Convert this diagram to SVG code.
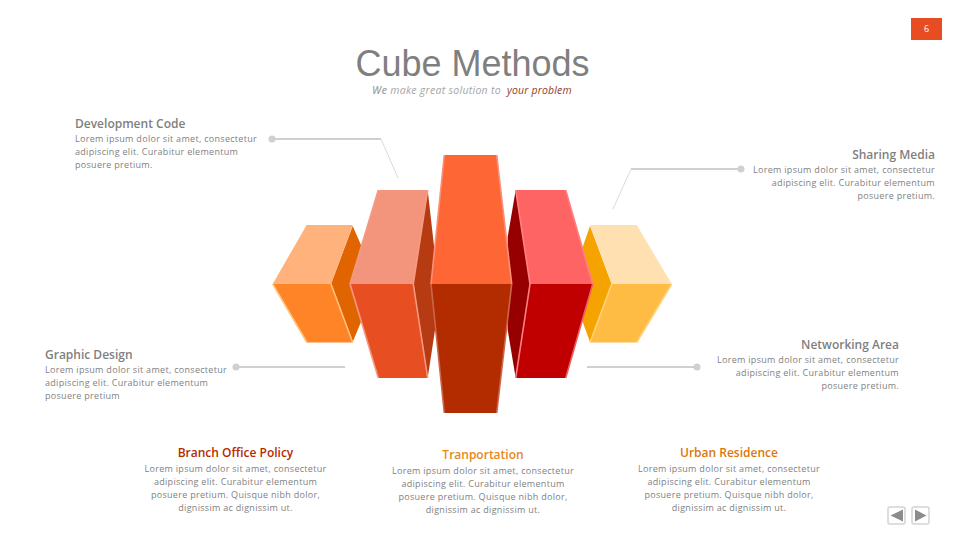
<svg xmlns="http://www.w3.org/2000/svg" width="960" height="540" viewBox="0 0 960 540">
<style>
.b{font-family:"Open Sans","Liberation Sans",sans-serif;font-size:9px;fill:#7f7f7f;letter-spacing:.3px}
.h{font-family:"Open Sans","Liberation Sans",sans-serif;font-size:12px;font-weight:600}
.g{fill:#7f7f7f}
.m{text-anchor:middle}.e{text-anchor:end}
.l{fill:none;stroke:#d0d0d0;stroke-width:2}
.t{fill:none;stroke:#d0d0d0;stroke-width:.8}
.d{fill:#d0d0d0}
.hl{fill:none;stroke-width:1.600}
</style>
<rect width="960" height="540" fill="#fff"/>
<g id="page"><rect x="911" y="18" width="31" height="22" fill="#e84c22"/><text x="926.500" y="32" text-anchor="middle" font-family="Open Sans,sans-serif" font-size="9" fill="#fff">6</text></g>
<g id="title"><text x="472.500" y="75.500" text-anchor="middle" font-family="Liberation Sans,sans-serif" font-size="36" fill="#7f7f7f">Cube Methods</text>
<text x="372" y="93.500" font-family="Open Sans,sans-serif" font-size="10.500" font-style="italic" fill="#a6a6a6" letter-spacing=".28"><tspan font-weight="600">We</tspan> make great solution to</text>
<text x="507" y="93.500" font-family="Open Sans,sans-serif" font-size="10.500" font-style="italic" fill="#963a1e" letter-spacing=".15">your problem</text></g>
<g id="connectors">
<path class="l" d="M272 139H381"/><path class="t" d="M381 139L398 178"/><circle class="d" cx="272" cy="139" r="3.500"/>
<path class="l" d="M741 169H631"/><path class="t" d="M631 169L613 209"/><circle class="d" cx="741" cy="169" r="3.500"/>
<path class="l" d="M236 367H345"/><circle class="d" cx="236" cy="367" r="3.500"/>
<path class="l" d="M697 367H587"/><circle class="d" cx="697" cy="367" r="3.500"/>
</g>
<g id="cube-1">
<path fill="#e06500" d="M352.700 226L361 245V322L352.700 342L331 284Z"/>
<path fill="#ffb27c" d="M306.700 225H352.700L331 284H272.700Z"/>
<path fill="#ff8427" d="M272.700 284H331L352.700 342.500H307Z"/>
<path class="hl" stroke="#ffc27a" d="M272.700 284L307 342.500M331 284L352.700 342.500"/>
</g>
<g id="cube-5">
<path fill="#f5a300" d="M590 226L582.700 247V322L590 342L611.700 284Z"/>
<path fill="#ffe0b0" d="M590 225H636.700L671.700 284H611.700Z"/>
<path fill="#ffbc45" d="M611.700 284H671.700L636.700 342.500H590Z"/>
<path class="hl" stroke="#ffd27a" d="M611.700 284L590 342.500M671.700 284L636.700 342.500"/>
</g>
<g id="cube-2">
<path fill="#b63a12" d="M427.700 190L435 255V330L427.700 378L413.300 284Z"/>
<path fill="#f2957c" d="M378.300 190H427.700L413.300 284H350Z"/>
<path fill="#e74e22" d="M350 284H413.300L427.700 378H378.300Z"/>
<path class="hl" stroke="#f59a80" d="M350 284L378.300 378M413.300 284L427.700 378M378.300 190L350 284M427.700 190L413.300 284"/>
</g>
<g id="cube-4">
<path fill="#970000" d="M515.700 190L507.700 237V330L515.700 378L530 284Z"/>
<path fill="#ff6464" d="M515.700 190H565.700L592.700 284H530Z"/>
<path fill="#c00000" d="M530 284H592.700L565.700 378H515.700Z"/>
<path class="hl" stroke="#ff8080" d="M515.700 190L530 284L515.700 378M565.700 190L592.700 284"/>
<path class="hl" stroke="#e86060" d="M592.700 284L565.700 378"/>
</g>
<g id="cube-3">
<path fill="#ff6636" d="M444.300 155H496.700L511.700 284H431Z"/>
<path fill="#b32c00" d="M431 284H511.700L496.700 413H444.300Z"/>
<path class="hl" stroke="#f9917a" d="M444.300 155L431 284M496.700 155L511.700 284"/>
<path class="hl" stroke="#c9674d" d="M431 284L444.300 413M511.700 284L496.700 413"/>
</g>
<g id="dev"><text class="h g" x="75" y="127.500">Development Code</text>
<text class="b" x="75" y="142">Lorem ipsum dolor sit amet, consectetur</text><text class="b" x="75" y="155">adipiscing elit. Curabitur elementum</text><text class="b" x="75" y="168">posuere pretium.</text></g>
<g id="sharing"><text class="h g e" x="935" y="158.500">Sharing Media</text>
<text class="b e" x="935" y="173">Lorem ipsum dolor sit amet, consectetur</text><text class="b e" x="935" y="186">adipiscing elit. Curabitur elementum</text><text class="b e" x="935" y="199">posuere pretium.</text></g>
<g id="graphic"><text class="h g" x="45" y="358.500">Graphic Design</text>
<text class="b" x="45" y="373">Lorem ipsum dolor sit amet, consectetur</text><text class="b" x="45" y="386">adipiscing elit. Curabitur elementum</text><text class="b" x="45" y="399">posuere pretium</text></g>
<g id="net"><text class="h g e" x="899" y="348.500">Networking Area</text>
<text class="b e" x="899" y="363">Lorem ipsum dolor sit amet, consectetur</text><text class="b e" x="899" y="376">adipiscing elit. Curabitur elementum</text><text class="b e" x="899" y="389">posuere pretium.</text></g>
<g id="branch"><text class="h m" x="235.500" y="457" fill="#b32c00">Branch Office Policy</text>
<text class="b m" x="235.500" y="471.500">Lorem ipsum dolor sit amet, consectetur</text><text class="b m" x="235.500" y="484.500">adipiscing elit. Curabitur elementum</text><text class="b m" x="235.500" y="497.500">posuere pretium. Quisque nibh dolor,</text><text class="b m" x="235.500" y="510.500">dignissim ac dignissim ut.</text></g>
<g id="trans"><text class="h m" x="483" y="459" fill="#e8861a">Tranportation</text>
<text class="b m" x="483" y="474">Lorem ipsum dolor sit amet, consectetur</text><text class="b m" x="483" y="487">adipiscing elit. Curabitur elementum</text><text class="b m" x="483" y="500">posuere pretium. Quisque nibh dolor,</text><text class="b m" x="483" y="513">dignissim ac dignissim ut.</text></g>
<g id="urban"><text class="h m" x="729" y="457" fill="#d9770a">Urban Residence</text>
<text class="b m" x="729" y="471.500">Lorem ipsum dolor sit amet, consectetur</text><text class="b m" x="729" y="484.500">adipiscing elit. Curabitur elementum</text><text class="b m" x="729" y="497.500">posuere pretium. Quisque nibh dolor,</text><text class="b m" x="729" y="510.500">dignissim ac dignissim ut.</text></g>
<g id="nav-prev"><rect x="888" y="507" width="17" height="17" rx="2" fill="#fff" stroke="#d4d4d4" stroke-width="1.500"/><path fill="#8c8c8c" d="M890.500 515.500L903 509.500V521.500Z"/></g>
<g id="nav-next"><rect x="912" y="507" width="17" height="17" rx="2" fill="#fff" stroke="#d4d4d4" stroke-width="1.500"/><path fill="#8c8c8c" d="M926.500 515.500L915 509.500V521.500Z"/></g>
</svg>
